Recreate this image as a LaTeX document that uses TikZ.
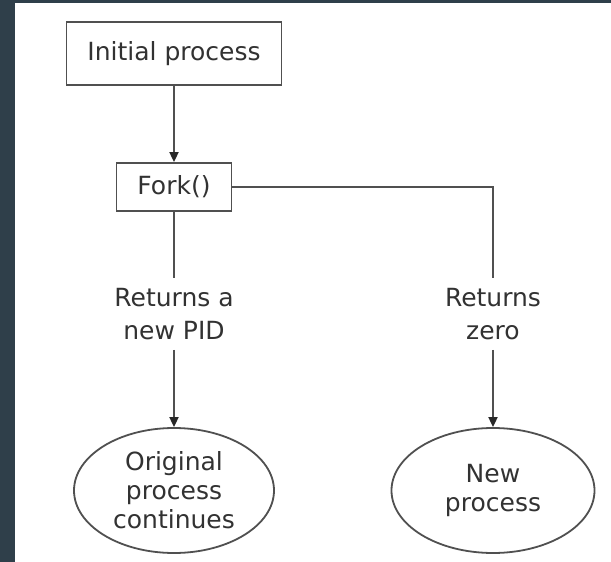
\documentclass[tikz,border=0pt]{standalone}
\usepackage{fontspec}
\setmainfont{DejaVu Sans}
\usetikzlibrary{shapes.geometric,arrows.meta}
\definecolor{bgdark}{RGB}{47,63,74}
\definecolor{linegray}{RGB}{80,80,80}
\definecolor{tipgray}{RGB}{40,40,40}
\definecolor{txtgray}{RGB}{50,50,50}
\begin{document}
\begin{tikzpicture}[x=1pt,y=-1pt,
  every node/.style={font=\fontsize{25}{33}\selectfont, text=txtgray},
  box/.style={draw=linegray, line width=1.8pt, rectangle, inner sep=0pt, fill=white},
  oval/.style={draw=linegray, line width=1.8pt, ellipse, inner sep=0pt, align=center, font=\fontsize{25}{29}\selectfont},
  lbl/.style={align=center, inner xsep=2pt, inner ysep=10pt},
  conn/.style={draw=linegray, line width=1.8pt},
  arr/.style={conn, -{Triangle[length=10pt,width=9pt,color=tipgray]}}]
\fill[bgdark] (0,0) rectangle (611,562);
\fill[white] (15,3) rectangle (611,562);
\useasboundingbox (0,0) rectangle (611,562);
\node[box, minimum width=215pt, minimum height=63pt] (init) at (174,53.5) {Initial process};
\node[box, minimum width=115pt, minimum height=48pt] (fork) at (174,187) {Fork()};
\node[lbl, anchor=north] (pid) at (174,278) {Returns a\\new PID};
\node[lbl, anchor=north] (zero) at (493,278) {Returns\\zero};
\node[oval, minimum width=200pt, minimum height=125pt] (orig) at (174,490.5) {Original\\process\\continues};
\node[oval, minimum width=203pt, minimum height=125pt] (new) at (493,490.5) {New\\process};
\draw[arr] (init) -- (fork);
\draw[conn] (fork) -- (pid);
\draw[conn] (fork.east) -| (zero.north);
\draw[arr] (pid) -- (orig);
\draw[arr] (zero) -- (new);
\end{tikzpicture}
\end{document}
